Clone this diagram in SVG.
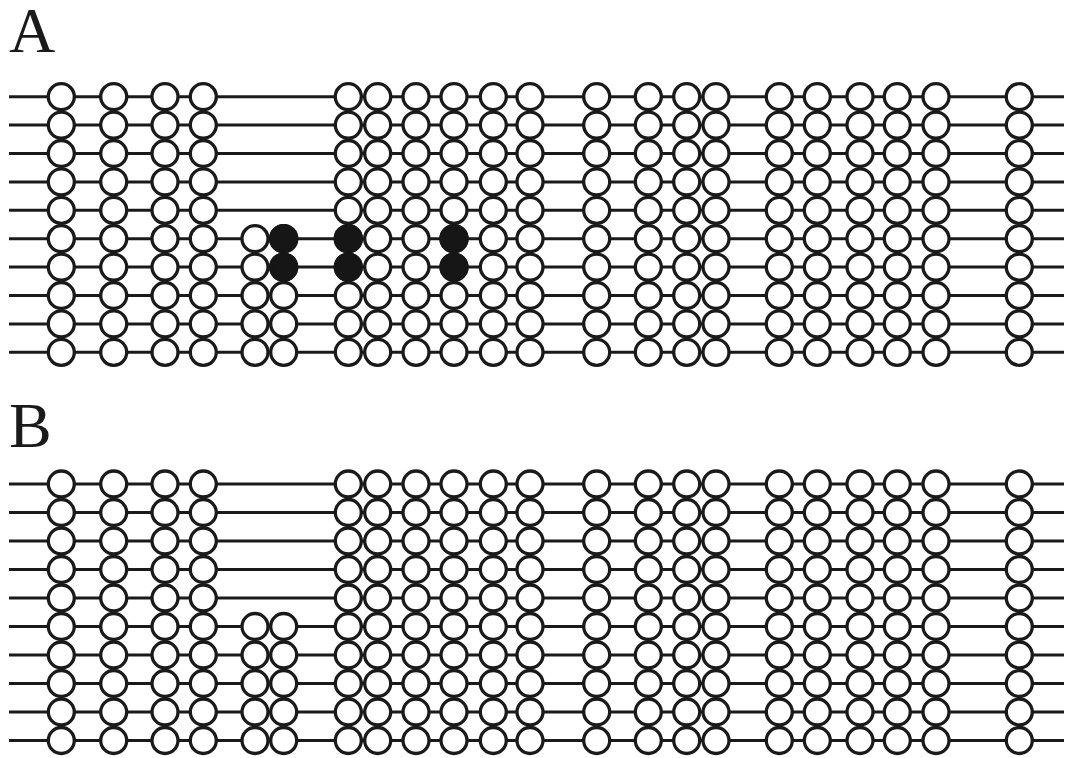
<svg xmlns="http://www.w3.org/2000/svg" xmlns:xlink="http://www.w3.org/1999/xlink" width="1065" height="758" viewBox="0 0 1065 758">
<style>
.ln{stroke:#1a1a1a;stroke-width:3;fill:none}
.o{fill:#fff;stroke:#1a1a1a;stroke-width:3.3}
.m{fill:#161616;stroke:#161616;stroke-width:3.3}
.lbl{font-family:"Liberation Serif","Times New Roman",serif;font-size:64px;fill:#1a1a1a}
</style>
<defs>
<g id="colA">
<circle class="o" cx="0" cy="96.7" r="13"/><circle class="o" cx="0" cy="125.1" r="13"/><circle class="o" cx="0" cy="153.5" r="13"/><circle class="o" cx="0" cy="181.9" r="13"/><circle class="o" cx="0" cy="210.3" r="13"/><circle class="o" cx="0" cy="238.7" r="13"/><circle class="o" cx="0" cy="267.1" r="13"/><circle class="o" cx="0" cy="295.5" r="13"/><circle class="o" cx="0" cy="323.9" r="13"/><circle class="o" cx="0" cy="352.3" r="13"/>
</g>
<g id="colA5">
<circle class="o" cx="0" cy="238.7" r="13"/><circle class="o" cx="0" cy="267.1" r="13"/><circle class="o" cx="0" cy="295.5" r="13"/><circle class="o" cx="0" cy="323.9" r="13"/><circle class="o" cx="0" cy="352.3" r="13"/>
</g>
<g id="colB">
<circle class="o" cx="0" cy="484" r="13"/><circle class="o" cx="0" cy="512.5" r="13"/><circle class="o" cx="0" cy="541" r="13"/><circle class="o" cx="0" cy="569.5" r="13"/><circle class="o" cx="0" cy="598" r="13"/><circle class="o" cx="0" cy="626.5" r="13"/><circle class="o" cx="0" cy="655" r="13"/><circle class="o" cx="0" cy="683.5" r="13"/><circle class="o" cx="0" cy="712" r="13"/><circle class="o" cx="0" cy="740.5" r="13"/>
</g>
<g id="colB5">
<circle class="o" cx="0" cy="626.5" r="13"/><circle class="o" cx="0" cy="655" r="13"/><circle class="o" cx="0" cy="683.5" r="13"/><circle class="o" cx="0" cy="712" r="13"/><circle class="o" cx="0" cy="740.5" r="13"/>
</g>
</defs>
<rect width="1065" height="758" fill="#fff"/>
<text class="lbl" x="9" y="52">A</text>
<text class="lbl" x="9" y="447">B</text>
<g id="connectors" class="ln">
<line x1="9" y1="96.7" x2="1064" y2="96.7"/><line x1="9" y1="125.1" x2="1064" y2="125.1"/><line x1="9" y1="153.5" x2="1064" y2="153.5"/><line x1="9" y1="181.9" x2="1064" y2="181.9"/><line x1="9" y1="210.3" x2="1064" y2="210.3"/><line x1="9" y1="238.7" x2="1064" y2="238.7"/><line x1="9" y1="267.1" x2="1064" y2="267.1"/><line x1="9" y1="295.5" x2="1064" y2="295.5"/><line x1="9" y1="323.9" x2="1064" y2="323.9"/><line x1="9" y1="352.3" x2="1064" y2="352.3"/>
<line x1="9" y1="484" x2="1064" y2="484"/><line x1="9" y1="512.5" x2="1064" y2="512.5"/><line x1="9" y1="541" x2="1064" y2="541"/><line x1="9" y1="569.5" x2="1064" y2="569.5"/><line x1="9" y1="598" x2="1064" y2="598"/><line x1="9" y1="626.5" x2="1064" y2="626.5"/><line x1="9" y1="655" x2="1064" y2="655"/><line x1="9" y1="683.5" x2="1064" y2="683.5"/><line x1="9" y1="712" x2="1064" y2="712"/><line x1="9" y1="740.5" x2="1064" y2="740.5"/>
</g>
<g id="panelA">
<use id="A-c01" xlink:href="#colA" x="61.3"/>
<use id="A-c02" xlink:href="#colA" x="113.7"/>
<use id="A-c03" xlink:href="#colA" x="165"/>
<use id="A-c04" xlink:href="#colA" x="203.3"/>
<use id="A-c05" xlink:href="#colA5" x="255"/>
<g id="A-c06"><use xlink:href="#colA5" x="283.7"/><circle class="m" cx="283.7" cy="238.7" r="13"/><circle class="m" cx="283.7" cy="267.1" r="13"/></g>
<g id="A-c07"><use xlink:href="#colA" x="348.3"/><circle class="m" cx="348.3" cy="238.7" r="13"/><circle class="m" cx="348.3" cy="267.1" r="13"/></g>
<use id="A-c08" xlink:href="#colA" x="377.7"/>
<use id="A-c09" xlink:href="#colA" x="416"/>
<g id="A-c10"><use xlink:href="#colA" x="454"/><circle class="m" cx="454" cy="238.7" r="13"/><circle class="m" cx="454" cy="267.1" r="13"/></g>
<use id="A-c11" xlink:href="#colA" x="493.3"/>
<use id="A-c12" xlink:href="#colA" x="530"/>
<use id="A-c13" xlink:href="#colA" x="596.7"/>
<use id="A-c14" xlink:href="#colA" x="648.3"/>
<use id="A-c15" xlink:href="#colA" x="686.7"/>
<use id="A-c16" xlink:href="#colA" x="716"/>
<use id="A-c17" xlink:href="#colA" x="779.3"/>
<use id="A-c18" xlink:href="#colA" x="817.3"/>
<use id="A-c19" xlink:href="#colA" x="860"/>
<use id="A-c20" xlink:href="#colA" x="897.3"/>
<use id="A-c21" xlink:href="#colA" x="936"/>
<use id="A-c22" xlink:href="#colA" x="1019.3"/>
</g>
<g id="panelB">
<use id="B-c01" xlink:href="#colB" x="61.3"/>
<use id="B-c02" xlink:href="#colB" x="113.7"/>
<use id="B-c03" xlink:href="#colB" x="165"/>
<use id="B-c04" xlink:href="#colB" x="203.3"/>
<use id="B-c05" xlink:href="#colB5" x="255"/>
<use id="B-c06" xlink:href="#colB5" x="283.7"/>
<use id="B-c07" xlink:href="#colB" x="348.3"/>
<use id="B-c08" xlink:href="#colB" x="377.7"/>
<use id="B-c09" xlink:href="#colB" x="416"/>
<use id="B-c10" xlink:href="#colB" x="454"/>
<use id="B-c11" xlink:href="#colB" x="493.3"/>
<use id="B-c12" xlink:href="#colB" x="530"/>
<use id="B-c13" xlink:href="#colB" x="596.7"/>
<use id="B-c14" xlink:href="#colB" x="648.3"/>
<use id="B-c15" xlink:href="#colB" x="686.7"/>
<use id="B-c16" xlink:href="#colB" x="716"/>
<use id="B-c17" xlink:href="#colB" x="779.3"/>
<use id="B-c18" xlink:href="#colB" x="817.3"/>
<use id="B-c19" xlink:href="#colB" x="860"/>
<use id="B-c20" xlink:href="#colB" x="897.3"/>
<use id="B-c21" xlink:href="#colB" x="936"/>
<use id="B-c22" xlink:href="#colB" x="1019.3"/>
</g>
</svg>
